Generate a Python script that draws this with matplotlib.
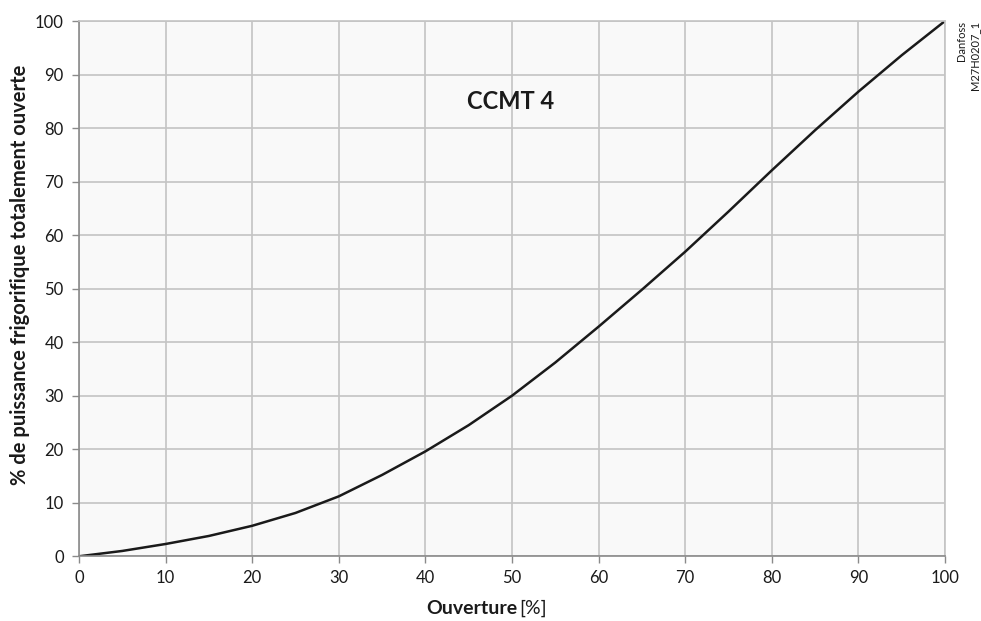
import matplotlib
matplotlib.use("Agg")
import matplotlib.pyplot as plt

opening = [0, 5, 10, 15, 20, 25, 30, 35, 40, 45, 50, 55, 60, 65, 70, 75, 80, 85, 90, 95, 100]
capacity = [0, 1.0, 2.3, 3.8, 5.7, 8.1, 11.2, 15.2, 19.6, 24.5, 30.0, 36.2, 42.9, 49.8, 56.9, 64.4, 72.1, 79.6, 86.8, 93.6, 100]
xticks = list(range(0, 101, 10))
yticks = list(range(0, 101, 10))

plt.rcParams['font.family'] = ['Lato', 'DejaVu Sans']

fig = plt.figure(figsize=(9.81, 6.21), dpi=100)
ax = fig.add_axes([79/981, 1-556.3/621, (945-79)/981, (556.3-21)/621])
ax.set_facecolor('#f9f9f9')
ax.plot(opening, capacity, color='#1a1a1a', lw=1.8, solid_joinstyle='round', solid_capstyle='round')
ax.set_xlim(0, 100)
ax.set_ylim(0, 100)
ax.set_xticks(xticks)
ax.set_yticks(yticks)
ax.grid(True, color='#c4c4c4', lw=1.2)
ax.set_axisbelow(True)
for s in ['top', 'right']:
    ax.spines[s].set_color('#c4c4c4')
    ax.spines[s].set_linewidth(1.2)
for s in ['left', 'bottom']:
    ax.spines[s].set_color('#8a8a8a')
    ax.spines[s].set_linewidth(1.2)
ax.tick_params(axis='both', direction='out', length=5, width=1, color='#8a8a8a',
               labelsize=12, labelcolor='#1a1a1a', pad=5)
ax.tick_params(axis='y', pad=6)

ax.text(49.8, 84.9, 'CCMT 4', fontsize=17, fontweight='bold', ha='center', va='center', color='#1a1a1a')

fig.text(20/981, 1-275/621, '% de puissance frigorifique totalement ouverte', fontsize=14.5,
         fontweight='bold', rotation=90, ha='center', va='center', color='#1a1a1a')

fig.text(517/981, 1-608/621, 'Ouverture', fontsize=14, fontweight='bold', ha='right', va='center', color='#1a1a1a')
fig.text(519/981, 1-608/621, '[%]', fontsize=14, ha='left', va='center', color='#1a1a1a')

fig.text(962/981, 1-21/621, 'Danfoss', fontsize=8, rotation=90, ha='center', va='top', color='#1a1a1a')
fig.text(975/981, 1-21/621, 'M27H0207_1', fontsize=8, rotation=90, ha='center', va='top', color='#1a1a1a')

fig.savefig('out.png', dpi=100)
